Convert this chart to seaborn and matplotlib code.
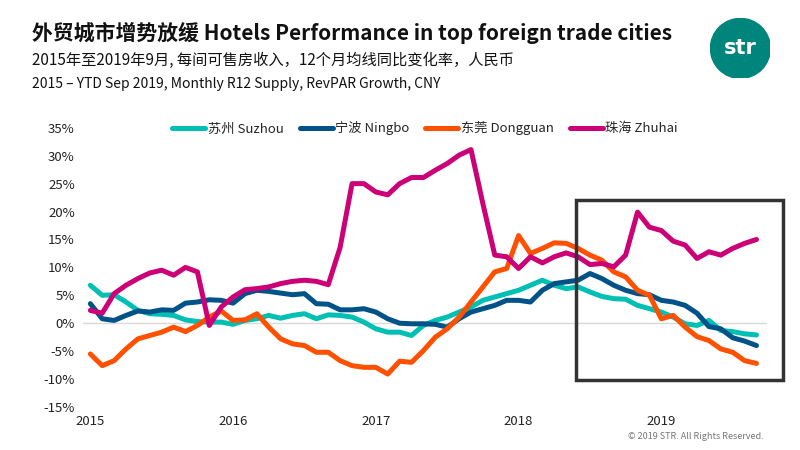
import numpy as np
import pandas as pd
import seaborn as sns
import matplotlib.pyplot as plt
from matplotlib.patches import Rectangle, Circle

sns.set_style("white")
plt.rcParams['font.family'] = ['Noto Sans CJK SC', 'DejaVu Sans']

months = pd.date_range('2015-01-01', '2019-09-01', freq='MS')
year_labels = ['2015', '2016', '2017', '2018', '2019']

suzhou = [6.8, 5.0, 5.1, 3.8, 2.3, 1.7, 1.6, 1.4, 0.6, 0.3, 0.2, 0.2,
          -0.2, 0.5, 0.8, 1.4, 0.9, 1.4, 1.7, 0.8, 1.5, 1.4, 1.1, 0.2,
          -1.0, -1.6, -1.6, -2.2, -0.4, 0.5, 1.1, 2.0, 2.9, 4.1, 4.7, 5.3,
          5.9, 6.8, 7.7, 6.8, 6.2, 6.5, 5.6, 4.8, 4.4, 4.3, 3.2, 2.6,
          2.0, 1.1, -0.1, -0.4, 0.5, -1.3, -1.5, -1.9, -2.1]
ningbo = [3.5, 0.8, 0.5, 1.4, 2.2, 2.0, 2.4, 2.3, 3.6, 3.8, 4.2, 4.1,
          3.6, 5.3, 5.9, 5.7, 5.4, 5.1, 5.3, 3.5, 3.4, 2.4, 2.4, 2.6,
          2.0, 0.8, 0.0, -0.1, -0.1, -0.2, -0.7, 0.8, 2.0, 2.6, 3.2, 4.1,
          4.1, 3.8, 5.9, 7.1, 7.4, 7.7, 8.9, 8.0, 6.8, 5.9, 5.3, 5.1,
          4.1, 3.8, 3.2, 1.8, -0.6, -1.0, -2.6, -3.2, -4.0]
dongguan = [-5.5, -7.6, -6.7, -4.6, -2.8, -2.2, -1.6, -0.7, -1.5, -0.4, 1.1, 2.2,
            0.5, 0.6, 1.7, -0.7, -2.8, -3.7, -4.0, -5.2, -5.2, -6.7, -7.6, -7.9,
            -7.9, -9.1, -6.8, -7.0, -4.9, -2.5, -1.0, 1.1, 3.8, 6.5, 9.2, 9.8,
            15.7, 12.5, 13.4, 14.4, 14.3, 13.4, 12.2, 11.3, 9.2, 8.3, 5.9, 5.0,
            0.8, 1.4, -0.7, -2.4, -3.1, -4.6, -5.2, -6.7, -7.2]
zhuhai = [2.3, 1.8, 5.3, 6.8, 8.0, 9.0, 9.5, 8.6, 10.0, 9.2, -0.4, 2.9,
          4.7, 6.0, 6.2, 6.5, 7.1, 7.5, 7.7, 7.5, 6.9, 13.6, 25.0, 25.0,
          23.5, 23.0, 25.0, 26.1, 26.1, 27.4, 28.6, 30.1, 31.1, 21.4, 12.2, 11.9,
          9.8, 11.9, 10.8, 11.9, 12.6, 11.9, 10.5, 10.7, 10.1, 12.2, 19.9, 17.2,
          16.6, 14.7, 14.0, 11.6, 12.8, 12.2, 13.4, 14.3, 15.0]

series = {'苏州 Suzhou': suzhou, '宁波 Ningbo': ningbo,
          '东莞 Dongguan': dongguan, '珠海 Zhuhai': zhuhai}
colors = ['#00BFB3', '#005288', '#FF5000', '#CC0077']

df = pd.DataFrame({'idx': np.arange(len(months))})
for k, v in series.items():
    df[k] = v
long = df.melt(id_vars='idx', var_name='city', value_name='growth')

fig = plt.figure(figsize=(8, 4.5), dpi=100)
ax = fig.add_axes([0.104, 0.0956, 0.855, 0.6204])
sns.lineplot(data=long, x='idx', y='growth', hue='city', palette=colors,
             linewidth=3.6, ax=ax, legend=True)

ax.set_xlim(-0.6, 56.9)
ax.set_ylim(-15, 35)
ax.set_yticks(range(-15, 36, 5))
ax.set_yticklabels([f'{t}%' for t in range(-15, 36, 5)], fontsize=9.5, color='#222222')
ax.set_xticks([0, 12, 24, 36, 48])
ax.set_xticklabels(year_labels, fontsize=9.5, color='#222222')
ax.tick_params(axis='both', length=0, pad=6)
ax.axhline(0, color='#d9d9d9', lw=1, zorder=0)
ax.set_xlabel('')
ax.set_ylabel('')
for s in ax.spines.values():
    s.set_visible(False)

ax.legend(loc='lower center', bbox_to_anchor=(0.5, 0.93), ncol=4, frameon=False,
          fontsize=9.5, handlelength=2.5, columnspacing=1.2, handletextpad=0.2)

ax.add_patch(Rectangle((40.8, -10.2), 17.4, 32.2, fill=False, edgecolor='#333333',
                       lw=2.5, clip_on=False, zorder=5))

fig.text(0.04, 0.91, '外贸城市增势放缓 Hotels Performance in top foreign trade cities',
         fontsize=15, fontweight='bold', color='#111111')
fig.text(0.04, 0.855, '2015年至2019年9月, 每间可售房收入，12个月均线同比变化率，人民币',
         fontsize=11, color='#111111')
fig.text(0.04, 0.805, '2015 – YTD Sep 2019, Monthly R12 Supply, RevPAR Growth, CNY',
         fontsize=10, color='#111111')
fig.text(0.955, 0.025, '© 2019 STR. All Rights Reserved.', fontsize=6.5,
         color='#777777', ha='right')

logo = fig.add_axes([0.888, 0.825, 0.075, 0.135])
logo.set_aspect('equal')
logo.add_patch(Circle((0.5, 0.5), 0.5, color='#00857C'))
logo.text(0.5, 0.5, 'str', color='white', fontsize=15, fontweight='bold',
          ha='center', va='center', family=['DejaVu Sans'])
logo.set_xlim(0, 1)
logo.set_ylim(0, 1)
logo.axis('off')

fig.savefig('out.png', dpi=100)
